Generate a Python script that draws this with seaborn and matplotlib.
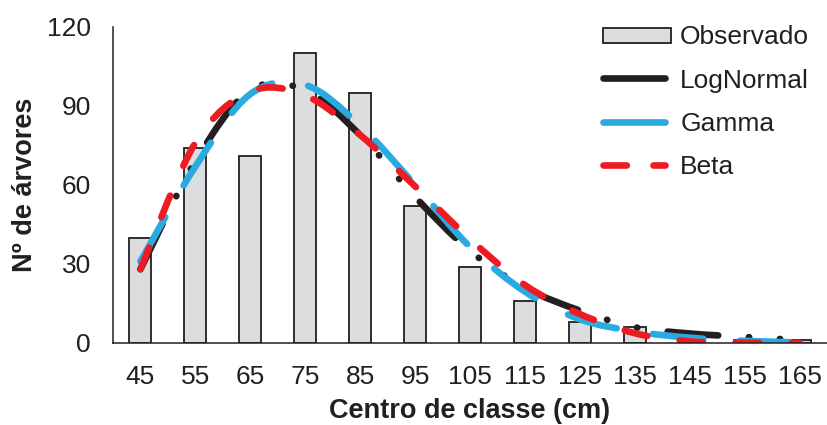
import numpy as np
import pandas as pd
import matplotlib
matplotlib.use("Agg")
import matplotlib.pyplot as plt
from matplotlib.path import Path
from matplotlib.patches import PathPatch, Patch, Rectangle
from matplotlib.lines import Line2D
from matplotlib.legend_handler import HandlerPatch
import seaborn as sns

# Diameter classes (class centre, cm) and tree counts
classes = [45, 55, 65, 75, 85, 95, 105, 115, 125, 135, 145, 155, 165]
observado = [40, 74, 71, 110, 95, 52, 29, 16, 8, 6, 2, 1, 1]

# Fitted frequencies for each distribution
lognormal = [28, 69, 96, 96, 79, 55.5, 35, 21, 12.3, 6, 3.6, 2.3, 1.1]
gamma = [31, 67, 94.5, 98, 82.5, 60, 36.5, 19.5, 9, 4.4, 2.0, 0.8, 0.2]
beta = [28, 76, 95.5, 94, 79, 59.5, 39.5, 22, 11, 3.7, 0.6, 0.1, 0.0]

y_ticks = [0, 30, 60, 90, 120]

INK = "#231F20"
BAR_FILL = "#DCDDDE"
C_LOGN = "#231F20"
C_GAMMA = "#29ABE2"
C_BETA = "#ED1C24"
LW = 4.8
FS = 19

sns.set_style("white")
plt.rcParams["font.family"] = ["Liberation Sans", "DejaVu Sans"]
plt.rcParams["text.color"] = INK

fig = plt.figure(figsize=(8.27, 4.25), dpi=100)
ax = fig.add_axes([0.1366, 0.193, 1.0 - 0.1366, 0.9365 - 0.193])

df = pd.DataFrame({"classe": [str(c) for c in classes], "n": observado})
sns.barplot(data=df, x="classe", y="n", width=0.4, color=BAR_FILL,
            edgecolor=INK, linewidth=1.3, saturation=1, ax=ax, zorder=1)


def smooth_path(ys):
    """Cubic Bezier path through the points (category index, value)."""
    pts = np.column_stack([np.arange(len(ys)), ys]).astype(float)
    n = len(pts)
    verts = [pts[0]]
    codes = [Path.MOVETO]
    for i in range(n - 1):
        p0 = pts[i - 1] if i > 0 else pts[i]
        p1 = pts[i]
        p2 = pts[i + 1]
        p3 = pts[i + 2] if i + 2 < n else pts[i + 1]
        verts += [p1 + (p2 - p0) / 6.0, p2 - (p3 - p1) / 6.0, p2]
        codes += [Path.CURVE4] * 3
    return Path(verts, codes)


styles = [
    (lognormal, C_LOGN, (0, (7.6, 4.6, 0.05, 4.6, 0.05, 4.6))),
    (gamma, C_GAMMA, (0, (7.6, 5.5))),
    (beta, C_BETA, (0, (3.5, 4.9))),
]
for k, (vals, col, ls) in enumerate(styles):
    patch = PathPatch(smooth_path(vals), fill=False, edgecolor=col, lw=LW,
                      linestyle=ls, capstyle="round", joinstyle="round",
                      zorder=3 + k)
    ax.add_patch(patch)

ax.set_xlim(-0.5, len(classes) - 0.5)
ax.set_ylim(0, 120)
ax.set_yticks(y_ticks)
ax.set_yticklabels([str(t) for t in y_ticks])
ax.tick_params(axis="both", length=0, labelsize=FS, colors=INK, pad=16)

sns.despine(ax=ax)
for side in ("left", "bottom"):
    ax.spines[side].set_color(INK)
    ax.spines[side].set_linewidth(1.1)
    ax.spines[side].set_zorder(10)

ax.set_xlabel("Centro de classe (cm)", fontsize=19.5, fontweight="bold", color=INK)
ax.set_ylabel("Nº de árvores", fontsize=19.5, fontweight="bold", color=INK)
ax.xaxis.set_label_coords(0.5, -0.175)
ax.yaxis.set_label_coords(-0.105, 0.5)


def box_handle(legend, orig_handle, xdescent, ydescent, width, height, fontsize):
    h = height * 0.8
    return Rectangle((-xdescent, -ydescent + (height - h) / 2), width * 1.1, h)


handles = [
    Patch(facecolor=BAR_FILL, edgecolor=INK, lw=1.3, label="Observado"),
    Line2D([], [], color=C_LOGN, lw=LW, solid_capstyle="round", label="LogNormal"),
    Line2D([], [], color=C_GAMMA, lw=LW, solid_capstyle="round", label="Gamma"),
    Line2D([], [], color=C_BETA, lw=LW, dash_capstyle="round",
           linestyle=(0, (3.5, 4.0)), label="Beta"),
]
ax.legend(handles=handles, loc="upper right", bbox_to_anchor=(0.975, 1.005),
          frameon=False, fontsize=FS, handlelength=2.35, handletextpad=0.57,
          labelspacing=0.73, borderpad=0, borderaxespad=0,
          handler_map={Patch: HandlerPatch(patch_func=box_handle)})

fig.savefig("out.png", dpi=100)
